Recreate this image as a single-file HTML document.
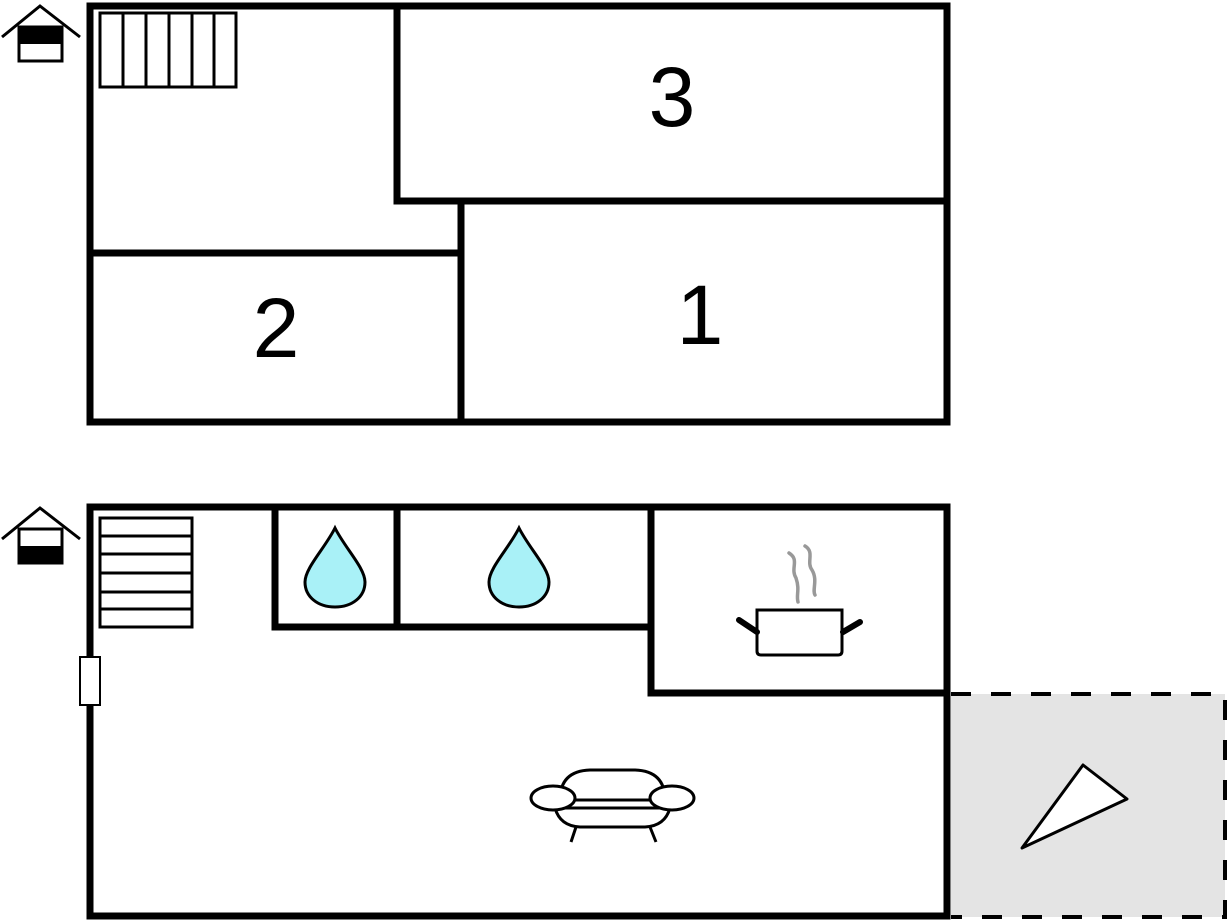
<!DOCTYPE html>
<html><head><meta charset="utf-8"><style>
html,body{margin:0;padding:0;background:#fff;}
svg{display:block;}
</style></head><body>
<svg width="1229" height="922" viewBox="0 0 1229 922" xmlns="http://www.w3.org/2000/svg">
<!-- terrace -->
<rect x="951" y="694" width="274" height="223" fill="#e4e4e4"/>
<path d="M951 694 H1225 V917 H951" fill="none" stroke="#000" stroke-width="4" stroke-dasharray="20,20"/>
<polygon points="1022,848 1083,765 1127,799" fill="#fff" stroke="#000" stroke-width="3" stroke-linejoin="round"/>

<g stroke="#000" stroke-width="7" fill="none" stroke-linecap="square">
<!-- top plan -->
<rect x="90" y="6" width="857" height="416"/>
<path d="M397 6 V201 H947"/>
<path d="M461 201 V422"/>
<path d="M90 253 H461"/>
<!-- bottom plan -->
<rect x="90" y="507" width="857" height="409"/>
<path d="M275 507 V627 H651"/>
<path d="M397 507 V627"/>
<path d="M651 507 V693 H947"/>
</g>

<!-- labels -->
<g font-family="Liberation Sans, sans-serif" font-size="84" text-anchor="middle" fill="#000">
<text x="672" y="126">3</text>
<text x="276" y="357">2</text>
<text x="700" y="344">1</text>
</g>

<!-- stairs top -->
<g stroke="#000" stroke-width="3" fill="#fff">
<rect x="100" y="13" width="136" height="74"/>
<path d="M123 13V87M146 13V87M169 13V87M192 13V87M214 13V87" fill="none"/>
</g>
<!-- stairs bottom -->
<g stroke="#000" stroke-width="3" fill="#fff">
<rect x="100" y="518" width="92" height="109"/>
<path d="M100 536H192M100 554H192M100 573H192M100 592H192M100 609H192" fill="none"/>
</g>
<!-- door -->
<rect x="80" y="657" width="20" height="48" fill="#fff" stroke="#000" stroke-width="2"/>

<!-- house icons -->
<g stroke="#000" stroke-width="3" fill="none">
<path d="M2 37 L40 6 L80 37"/>
<rect x="19" y="27" width="43" height="34" fill="#fff"/>
</g>
<rect x="18" y="26" width="45" height="18" fill="#000"/>
<g stroke="#000" stroke-width="3" fill="none">
<path d="M2 539 L40 508 L80 539"/>
<rect x="19" y="529" width="43" height="34" fill="#fff"/>
</g>
<rect x="18" y="546" width="45" height="18" fill="#000"/>

<!-- drops -->
<g fill="#a9f1f7" stroke="#000" stroke-width="3">
<path d="M335 528 C325 548 305 568 305 582 C305 597 318 607 335 607 C352 607 365 597 365 582 C365 568 345 548 335 528 Z"/>
<path d="M519 528 C509 548 489 568 489 582 C489 597 502 607 519 607 C536 607 549 597 549 582 C549 568 529 548 519 528 Z"/>
</g>

<!-- pot -->
<g stroke="#000" stroke-width="3" fill="#fff">
<path d="M757 610 H842 V651 Q842 655 838 655 H761 Q757 655 757 651 Z"/>
</g>
<g stroke="#000" stroke-width="6" stroke-linecap="round">
<path d="M739 620 L757 632"/>
<path d="M860 622 L843 632"/>
</g>
<g stroke="#999" stroke-width="3.5" fill="none" stroke-linecap="round">
<path d="M789 553 C800 560 790 568 796 578 C800 590 796 595 798 602"/>
<path d="M805 546 C815 552 806 562 812 570 C818 580 812 590 815 595"/>
</g>

<!-- sofa -->
<g stroke="#000" stroke-width="3" fill="#fff">
<path d="M555 808 Q560 826 580 827 H645 Q665 826 670 808 Z"/>
<path d="M560 800 Q560 771 590 770 H635 Q665 771 665 800 Z"/>
<ellipse cx="553" cy="798" rx="22" ry="12"/>
<ellipse cx="672" cy="798" rx="22" ry="12"/>
<path d="M576 827 L571 842 M650 827 L656 842" fill="none"/>
</g>
</svg>
</body></html>
